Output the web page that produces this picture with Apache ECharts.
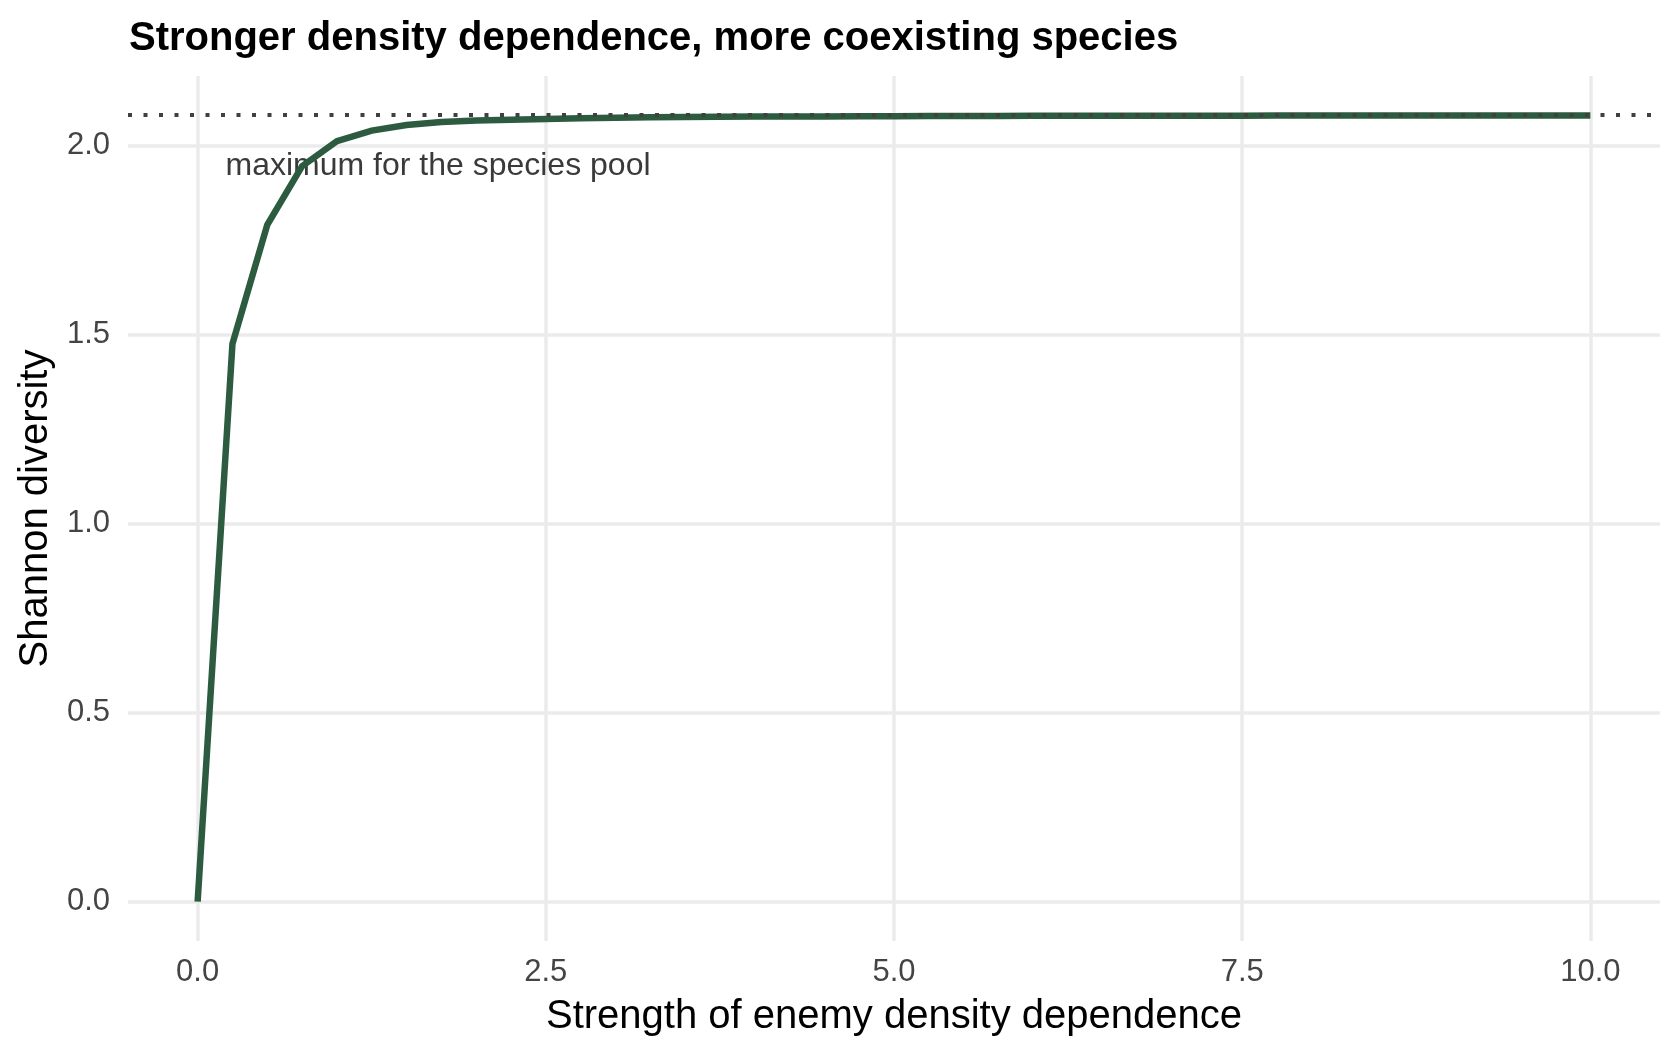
<!DOCTYPE html>
<html>
<head>
<meta charset="utf-8">
<script src="https://cdn.jsdelivr.net/npm/echarts@6/dist/echarts.min.js"></script>
<style>
  html, body { margin: 0; padding: 0; background: #ffffff; }
  #diversityChart { width: 1680px; height: 1056px; }
</style>
</head>
<body>
<div id="diversityChart"></div>
<script>
// enemy density dependence strength (x) and resulting Shannon diversity (y)
var strengthValues = [
  0, 0.25, 0.5, 0.75, 1, 1.25, 1.5, 1.75, 2, 2.25,
  2.5, 2.75, 3, 3.25, 3.5, 3.75, 4, 4.25, 4.5, 4.75,
  5, 5.25, 5.5, 5.75, 6, 6.25, 6.5, 6.75, 7, 7.25,
  7.5, 7.75, 8, 8.25, 8.5, 8.75, 9, 9.25, 9.5, 9.75, 10
];
var shannonValues = [
  0, 1.475, 1.79, 1.945, 2.011, 2.039, 2.054, 2.062, 2.066, 2.068,
  2.070, 2.072, 2.073, 2.074, 2.075, 2.0755, 2.076, 2.0763, 2.0766, 2.0769,
  2.0772, 2.0774, 2.0776, 2.0778, 2.078, 2.0781, 2.0782, 2.0783, 2.0784, 2.0785,
  2.0786, 2.0787, 2.0788, 2.0788, 2.0789, 2.0789, 2.079, 2.079, 2.079, 2.0791, 2.0791
];
var maxDiversity = 2.0794; // log(8), maximum for the species pool
var xTickValues = [0, 2.5, 5, 7.5, 10];
var yTickValues = [0, 0.5, 1, 1.5, 2];
var noteText = 'maximum for the species pool';
var notePosition = [0.2, 1.946];

var lineData = strengthValues.map(function (s, i) { return [s, shannonValues[i]]; });

var dom = document.getElementById('diversityChart');
var myChart = echarts.init(dom, null, { renderer: 'canvas' });

var fontFamily = '"Liberation Sans", Arial, Helvetica, sans-serif';
var gridColor = '#ebebeb';

var option = {
  backgroundColor: '#ffffff',
  animation: false,
  title: {
    text: 'Stronger density dependence, more coexisting species',
    left: 124,
    top: 14,
    textStyle: { fontFamily: fontFamily, fontSize: 40, fontWeight: 'bold', color: '#000000' }
  },
  grid: { left: 128, right: 20, top: 76, bottom: 115, containLabel: false },
  xAxis: {
    type: 'value',
    min: -0.5,
    max: 10.5,
    name: 'Strength of enemy density dependence',
    nameLocation: 'middle',
    nameGap: 56,
    nameTextStyle: { fontFamily: fontFamily, fontSize: 40, color: '#000000' },
    axisLine: { show: false },
    axisTick: { show: false, customValues: xTickValues },
    axisLabel: {
      customValues: xTickValues,
      margin: 16,
      fontFamily: fontFamily,
      fontSize: 31,
      color: '#444444',
      formatter: function (v) { return v.toFixed(1); }
    },
    splitLine: { show: true, lineStyle: { color: gridColor, width: 3.5 } }
  },
  yAxis: {
    type: 'value',
    min: -0.104,
    max: 2.1834,
    name: 'Shannon diversity',
    nameLocation: 'middle',
    nameGap: 69,
    nameTextStyle: { fontFamily: fontFamily, fontSize: 40, color: '#000000' },
    axisLine: { show: false },
    axisTick: { show: false, customValues: yTickValues },
    axisLabel: {
      customValues: yTickValues,
      margin: 18,
      fontFamily: fontFamily,
      fontSize: 31,
      color: '#444444',
      formatter: function (v) { return v.toFixed(1); }
    },
    splitLine: { show: true, lineStyle: { color: gridColor, width: 3.5 } }
  },
  series: [
    {
      name: 'note',
      type: 'scatter',
      symbolSize: 0,
      silent: true,
      z: 1,
      data: [notePosition],
      itemStyle: { opacity: 1 },
      label: {
        show: true,
        position: 'inside',
        align: 'left',
        verticalAlign: 'middle',
        formatter: noteText,
        fontFamily: fontFamily,
        fontSize: 32,
        color: '#3a3a3a'
      }
    },
    {
      name: 'Shannon diversity',
      type: 'line',
      z: 3,
      showSymbol: false,
      data: lineData,
      lineStyle: { color: '#2d5b40', width: 6.5, join: 'miter' },
      markLine: {
        silent: true,
        symbol: ['none', 'none'],
        label: { show: false },
        lineStyle: { color: '#404040', width: 4, type: [4, 11.5] },
        data: [{ yAxis: maxDiversity }]
      }
    }
  ]
};

if (option && typeof option === 'object') {
  myChart.setOption(option);
}

window.addEventListener('resize', myChart.resize);
</script>
</body>
</html>
